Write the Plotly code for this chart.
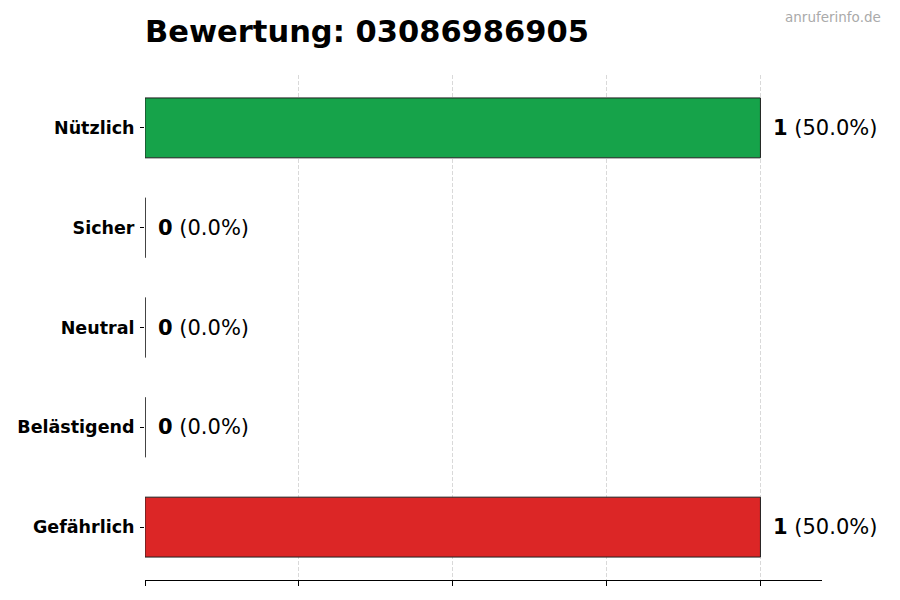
import plotly.graph_objects as go

categories = ["Nützlich", "Sicher", "Neutral", "Belästigend", "Gefährlich"]
counts = [1, 0, 0, 0, 1]
colors = ["#16a34a", "#9ca3af", "#6b7280", "#f59e0b", "#dc2626"]
tick_values = [0, 0.25, 0.5, 0.75, 1.0]
title_text = "Bewertung: 03086986905"
watermark = "anruferinfo.de"

FONT = "DejaVu Sans"
BAR_W = 0.6
total = sum(counts)
pos = list(range(len(categories)))

fig = go.Figure()
fig.add_trace(go.Bar(
    x=counts, y=pos, orientation="h", width=BAR_W,
    marker=dict(color=colors, line=dict(color="#1f1f1f", width=1)),
    hoverinfo="skip", showlegend=False,
))

# zero-valued bars: draw only their outline edge like the original
zx, zy = [], []
for i, v in enumerate(counts):
    if v == 0:
        zx += [0, 0, None]
        zy += [i - BAR_W / 2, i + BAR_W / 2, None]
fig.add_trace(go.Scatter(x=zx, y=zy, mode="lines",
                         line=dict(color="#333333", width=1),
                         hoverinfo="skip", showlegend=False))

for i, v in enumerate(counts):
    pct = v / total * 100 if total else 0
    fig.add_annotation(
        x=v, y=i, xref="x", yref="y", xanchor="left", yanchor="middle",
        xshift=11, showarrow=False,
        text=f"<b>{v}</b> ({pct:.1f}%)",
        font=dict(family=FONT, size=21, color="#000000"),
    )

fig.add_annotation(
    x=(883 - 145) / (900 - 145 - 78), xanchor="right",
    y=1 + (75 - 17) / (600 - 75 - 20), yanchor="middle",
    xref="paper", yref="paper", text=watermark, showarrow=False,
    font=dict(family=FONT, size=13.5, color="#aaaaaa"),
)

fig.update_layout(
    width=900, height=600,
    margin=dict(l=145, r=78, t=75, b=20),
    paper_bgcolor="white", plot_bgcolor="white",
    font=dict(family=FONT, color="#000000"),
    title=dict(text=f"<b>{title_text}</b>", x=145 / 900, xanchor="left",
               y=1 - 31 / 600, yanchor="middle",
               font=dict(family=FONT, size=30.5, color="#000000")),
)
fig.update_xaxes(
    range=[0, 1.1], tickvals=tick_values, showticklabels=False,
    ticks="outside", ticklen=5, tickcolor="#000000",
    showline=True, linecolor="#000000", linewidth=1,
    showgrid=True, gridcolor="rgba(170,170,170,0.45)", griddash="4px,2px", gridwidth=1,
    zeroline=False, layer="above traces",
)
fig.update_yaxes(
    range=[len(categories) - 0.47, -0.53], tickvals=pos,
    ticktext=[f"<b>{c}</b>" for c in categories],
    ticks="outside", ticklen=4, tickcolor="#000000", ticklabelstandoff=2,
    tickfont=dict(family=FONT, size=17.5, color="#000000"),
    showline=False, showgrid=False, zeroline=False,
)

fig.write_html("out.html", config={"displayModeBar": False},
               post_script="document.body.style.margin='0px';")
